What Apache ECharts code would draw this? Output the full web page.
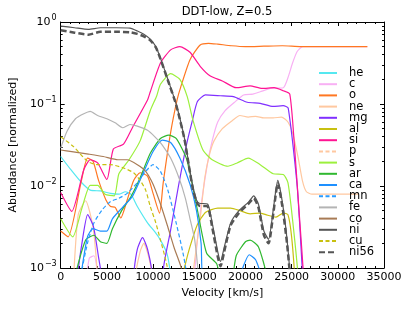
<!DOCTYPE html>
<html><head><meta charset="utf-8">
<script src="https://cdn.jsdelivr.net/npm/echarts@6/dist/echarts.min.js"></script>
<style>html,body{margin:0;padding:0;background:#fff}#c{width:415px;height:312px}</style>
</head><body><div id="c"></div><script>
// ---- data: [velocity km/s, abundance] ----
const names = ['he','c','o','ne','mg','al','si','p','s','ar','ca','mn','fe','co','ni','cu','ni56'];
const he = [[0,2.29e-2],[1100,1.58e-2],[2200,1.12e-2],[3200,8.91e-3],[4300,8.71e-3],[5400,8.13e-3],[6300,7.94e-3],[7000,8.51e-3],[7600,7.94e-3],[8300,5.62e-3],[9400,3.55e-3],[10200,2.75e-3],[10800,2.19e-3],[11500,1.51e-3],[11900,7.9e-4],[12500,1e-4]];
const c = [[0,1e-4],[2000,1e-4],[2700,6.3e-4],[3100,1.32e-3],[3600,1.41e-3],[4100,6.3e-4],[4600,1e-4],[14000,1e-4],[14400,6.3e-4],[15100,4.68e-3],[15900,1.91e-2],[16400,3.55e-2],[17000,6.03e-2],[17800,8.32e-2],[18900,0.107],[19800,0.129],[20800,0.132],[21600,0.141],[22700,0.155],[24100,0.158],[24600,0.209],[25100,0.316],[25600,0.437],[26200,0.501],[33200,0.501]];
const o = [[0,2.82e-3],[800,2.40e-3],[2200,1.10e-2],[2900,2.19e-2],[3500,2.00e-2],[4100,1.17e-2],[4900,6.76e-3],[5400,5.62e-3],[5900,5.50e-3],[6500,4.07e-3],[7200,6.76e-3],[7900,1.17e-2],[8600,1.45e-2],[9400,1.32e-2],[10000,8.13e-3],[10700,4.68e-3],[11100,1.10e-2],[11900,4.47e-2],[12600,0.112],[13000,0.162],[14000,0.347],[15100,0.525],[16000,0.550],[17000,0.537],[18500,0.513],[20000,0.501],[22000,0.507],[24000,0.513],[26000,0.501],[28000,0.501],[33200,0.501]];
const ne = [[0,1e-4],[1000,1e-4],[1400,7.9e-4],[1900,4.47e-3],[2700,6.61e-3],[3500,3.16e-3],[4000,7.9e-4],[4500,1e-4],[7700,1e-4],[8100,7.9e-4],[8600,1.58e-3],[9000,2.0e-3],[9500,1.41e-3],[9900,7.9e-4],[10300,1e-4],[13900,1e-4],[14300,7.9e-4],[15100,3.98e-3],[15600,1.26e-2],[16100,2.40e-2],[16600,3.55e-2],[17500,5.01e-2],[18600,6.31e-2],[19400,7.24e-2],[20300,6.92e-2],[21100,7.08e-2],[22000,6.76e-2],[23000,6.76e-2],[23900,6.92e-2],[24600,6.03e-2],[25100,4.47e-2],[25700,2.24e-2],[26200,1.12e-2],[26600,8.51e-3],[27200,7.94e-3],[32300,7.94e-3]];
const mg = [[0,1e-4],[1500,1e-4],[1840,7.9e-4],[2300,2.0e-3],[2920,4.47e-3],[3560,3.16e-3],[4100,1.35e-3],[4430,7.9e-4],[4900,1e-4],[7400,1e-4],[7890,7.9e-4],[8300,1.7e-3],[8860,2.34e-3],[9400,1.7e-3],[9940,7.9e-4],[10400,1e-4],[10700,1e-4],[11130,1.0e-3],[11880,2.82e-3],[12750,1.0e-2],[13610,3.16e-2],[14260,6.31e-2],[14800,0.107],[15660,0.129],[17280,0.126],[18690,0.123],[20200,0.105],[21600,0.102],[23000,0.0933],[24090,0.0955],[24630,0.0891],[25600,1.0e-2],[26250,6.3e-4],[26700,1e-4]];
const al = [[0,1e-4],[12500,1e-4],[13000,6.3e-4],[13500,1.12e-3],[14000,1.82e-3],[14800,3.39e-3],[15700,4.79e-3],[17000,5.37e-3],[18400,5.37e-3],[19400,5.01e-3],[20500,4.57e-3],[21600,4.68e-3],[22200,4.47e-3],[23300,4.17e-3],[24100,4.68e-3],[24600,4.47e-3],[25000,2.40e-3],[25400,6.3e-4],[25800,1e-4]];
const si = [[0,8.32e-3],[1200,4.90e-3],[2500,1.58e-2],[3200,2.09e-2],[4000,1.91e-2],[5000,1.20e-2],[5700,2.82e-2],[6800,3.24e-2],[7800,5.25e-2],[9400,0.112],[9700,0.141],[10800,0.316],[11900,0.457],[12900,0.501],[14000,0.427],[15100,0.288],[16200,0.219],[17500,0.191],[19000,0.158],[20500,0.166],[21800,0.155],[23100,0.158],[24100,0.145],[24800,0.132],[25300,3.16e-2],[25800,5.01e-3],[26300,7.9e-4],[26700,1e-4]];
const p = [[0,1e-5],[33000,1e-5]];
const s = [[0,3.98e-3],[1300,2.40e-3],[2300,5.37e-3],[3200,1.02e-2],[4000,1.02e-2],[4800,7.94e-3],[5800,7.59e-3],[6300,1.41e-2],[7400,2.09e-2],[8600,3.55e-2],[9700,8.32e-2],[10400,0.126],[10800,0.174],[11900,0.234],[12900,0.200],[13700,0.123],[14300,6.46e-2],[15400,2.75e-2],[16400,2.09e-2],[18100,1.74e-2],[19100,1.91e-2],[20300,2.19e-2],[21600,1.82e-2],[23000,1.41e-2],[24100,1.38e-2],[24600,1.10e-2],[25100,3.89e-3],[25700,7.9e-4],[26100,1e-4]];
const ar = [[0,1e-4],[1200,1e-4],[1600,7.9e-4],[2700,2.19e-3],[3600,2.51e-3],[4300,2.09e-3],[5000,2.0e-3],[5600,3.02e-3],[6600,5.01e-3],[7600,7.41e-3],[8600,1.26e-2],[9700,2.51e-2],[10800,3.80e-2],[11700,4.17e-2],[12500,3.80e-2],[13600,2.19e-2],[14300,9.77e-3],[14900,4.47e-3],[15800,1.51e-3],[16900,1.12e-3],[17500,6.3e-4],[18400,6.3e-4],[19000,1.41e-3],[20000,2.09e-3],[20500,2.19e-3],[21400,1.82e-3],[22300,7.9e-4],[22800,1e-4]];
const ca = [[0,1e-4],[1800,1e-4],[2200,7.9e-4],[2900,2.40e-3],[3500,3.02e-3],[4300,2.82e-3],[5000,2.82e-3],[5600,3.98e-3],[6700,5.50e-3],[7800,7.59e-3],[8900,1.41e-2],[10000,2.63e-2],[11000,3.63e-2],[11900,3.39e-2],[12900,2.19e-2],[14000,1.05e-2],[14700,5.01e-3],[15200,2.0e-3],[15500,6.3e-4],[19000,6.3e-4],[19700,1.0e-3],[20400,1.45e-3],[21100,1.26e-3],[21700,7.9e-4],[22200,1e-4]];
const mn = [[0,1e-4],[1800,1e-4],[2200,7.9e-4],[2900,2.0e-3],[3600,3.55e-3],[4500,5.13e-3],[5400,6.46e-3],[6300,7.08e-3],[7200,8.13e-3],[8300,1.10e-2],[9200,1.51e-2],[10000,1.82e-2],[10800,1.51e-2],[11600,8.91e-3],[12500,3.55e-3],[13300,1.41e-3],[13800,6.3e-4],[14300,1e-4]];
const fe = [[0,2.9e-2],[700,4.68e-2],[1600,6.61e-2],[2500,7.59e-2],[3200,8.13e-2],[4000,7.24e-2],[5000,6.61e-2],[5900,5.89e-2],[6700,5.13e-2],[7500,5.62e-2],[8300,5.37e-2],[9400,4.79e-2],[10200,3.98e-2],[11000,3.16e-2],[11900,2.19e-2],[12800,1.26e-2],[13500,7.08e-3],[14000,3.98e-3],[14500,2.24e-3],[14900,7.9e-4],[15200,1e-4]];
const co = [[0,2.75e-2],[1200,2.63e-2],[3000,2.45e-2],[4600,2.29e-2],[6200,2.09e-2],[7200,2.09e-2],[8300,1.82e-2],[9200,1.51e-2],[10000,1.05e-2],[10800,6.03e-3],[11600,3.16e-3],[12300,1.74e-3],[13000,1.05e-3],[13400,6.3e-4],[13800,1e-4]];
const ni = [[0,0.891],[1500,0.851],[3000,0.813],[4300,0.851],[6000,0.851],[7500,0.841],[8300,0.776],[9000,0.708],[9700,0.617],[10300,0.501],[10800,0.363],[11600,0.200],[12500,0.100],[13400,3.80e-2],[13900,1.78e-2],[14300,1.0e-2],[14700,6.76e-3],[15000,6.17e-3],[15900,6.03e-3],[16400,3.55e-3],[17000,1.58e-3],[17300,1.20e-3],[17700,1.78e-3],[18400,3.55e-3],[19300,5.01e-3],[20300,6.31e-3],[20900,7.59e-3],[21400,6.03e-3],[22000,2.82e-3],[22500,2.24e-3],[23000,5.01e-3],[23500,1.17e-2],[24000,6.31e-3],[24500,2.24e-3],[24900,6.3e-4],[25200,1e-4]];
const cu = [[0,3.98e-2],[1400,3.02e-2],[2900,2.0e-2],[4000,1.82e-2],[5400,1.82e-2],[6800,1.66e-2],[7900,1.45e-2],[8600,1.17e-2],[9200,8.91e-3],[9700,5.62e-3],[10300,3.55e-3],[10800,2.19e-3],[11300,1.35e-3],[11900,6.3e-4],[12300,1e-4]];
const ni56 = [[0,0.794],[1500,0.741],[3000,0.70],[4300,0.759],[6000,0.759],[7500,0.75],[8300,0.716],[9000,0.668],[9700,0.596],[10300,0.490],[10800,0.355],[11600,0.195],[12500,9.77e-2],[13400,3.72e-2],[13900,1.70e-2],[14300,9.33e-3],[14700,6.46e-3],[15000,5.75e-3],[15900,5.62e-3],[16400,3.16e-3],[17000,1.38e-3],[17300,1.05e-3],[17700,1.58e-3],[18400,3.31e-3],[19300,4.68e-3],[20300,6.03e-3],[20900,7.08e-3],[21400,5.50e-3],[22000,2.51e-3],[22500,2.0e-3],[23000,4.47e-3],[23500,1.07e-2],[24000,5.62e-3],[24500,2.0e-3],[24900,6.3e-4],[25200,1e-4]];
const yMinorTicks = [0.002,0.003,0.004,0.005,0.006,0.007,0.008,0.009,0.02,0.03,0.04,0.05,0.06,0.07,0.08,0.09,0.2,0.3,0.4,0.5,0.6,0.7,0.8,0.9];
const xRange = [0, 35000];
const yRange = [0.001, 1];
const xInterval = 5000;

// ---- styles ----
const dataByName = {he,c,o,ne,mg,al,si,p,s,ar,ca,mn,fe,co,ni,cu,ni56};
const colors = {he:'#55e8f0',c:'#f8b0f4',o:'#ff7722',ne:'#ffc8a0',mg:'#8030ff',al:'#c8c010',si:'#ff1493',p:'#ffc8a0',s:'#9cf03c',ar:'#30b830',ca:'#1e90ff',mn:'#2a9cff',fe:'#b4b4b4',co:'#a87b55',ni:'#555555',cu:'#c8c010',ni56:'#555555'};
const dashes = {p:[4,2.5],mn:[4,2.5],cu:[4,2.5],ni56:[6,3]};
const FONT = 'DejaVu Sans';

const series = names.map(n => ({
  name: n, type: 'line', data: dataByName[n], symbol: 'none', showSymbol: false,
  smooth: 0.2, clip: true, animation: false,
  lineStyle: {color: colors[n], width: n === 'ni56' ? 2.5 : 1.2, type: dashes[n] || 'solid'},
  itemStyle: {color: colors[n]}
}));

const tickStyle = {color: '#000', width: 1};
const chart = echarts.init(document.getElementById('c'), null, {renderer: 'canvas'});
chart.setOption({
  animation: false,
  backgroundColor: '#fff',
  title: {text: 'DDT-low, Z=0.5', left: 222, top: 1, textAlign: 'center',
    textStyle: {fontFamily: FONT, fontSize: 11.5, fontWeight: 'normal', color: '#000'}},
  grid: {left: 60, right: 31, top: 22, bottom: 44},
  legend: {data: names, orient: 'vertical', left: 318, top: 67, padding: 0, itemWidth: 18, itemHeight: 1, itemGap: -0.8,
    itemStyle: {opacity: 0},
    textStyle: {fontFamily: FONT, fontSize: 11.5, color: '#000', lineHeight: 11.1, padding: [0,0,0,7]}},
  xAxis: [
    {type: 'value', min: xRange[0], max: xRange[1], interval: xInterval, position: 'bottom',
     name: 'Velocity [km/s]', nameLocation: 'middle', nameGap: 20,
     nameTextStyle: {fontFamily: FONT, fontSize: 11, color: '#000'},
     axisLine: {show: true, lineStyle: tickStyle}, splitLine: {show: false},
     axisTick: {show: true, inside: true, length: 4, lineStyle: tickStyle},
     minorTick: {show: true, splitNumber: 5, length: 2, lineStyle: tickStyle},
     axisLabel: {fontFamily: FONT, fontSize: 11, color: '#000', margin: 4, formatter: v => String(v)}},
    {type: 'value', min: xRange[0], max: xRange[1], interval: xInterval, position: 'top',
     axisLine: {show: true, lineStyle: tickStyle}, splitLine: {show: false},
     axisTick: {show: true, inside: true, length: 4, lineStyle: tickStyle},
     minorTick: {show: true, splitNumber: 5, length: 2, lineStyle: tickStyle},
     axisLabel: {show: false}}
  ],
  yAxis: [
    {type: 'log', logBase: 10, min: yRange[0], max: yRange[1], position: 'left',
     name: 'Abundance [normalized]', nameLocation: 'middle', nameGap: 36,
     nameTextStyle: {fontFamily: FONT, fontSize: 11, color: '#000'},
     axisLine: {show: true, lineStyle: tickStyle}, splitLine: {show: false},
     axisTick: {show: true, inside: true, length: 4, lineStyle: tickStyle},
     axisLabel: {margin: 4, color: '#000',
       formatter: v => { const e = Math.round(Math.log10(v)); return '{b|10}{s|' + (e === 0 ? '0' : '\u2212' + (-e)) + '}'; },
       rich: {b: {fontFamily: FONT, fontSize: 11, color: '#000'},
              s: {fontFamily: FONT, fontSize: 8, color: '#000', padding: [0, 0, 9, 1]}}}},
    {type: 'log', logBase: 10, min: yRange[0], max: yRange[1], position: 'left',
     axisLine: {show: false}, splitLine: {show: false}, axisLabel: {show: false},
     axisTick: {show: true, inside: true, length: 2, lineStyle: tickStyle, customValues: yMinorTicks}},
    {type: 'log', logBase: 10, min: yRange[0], max: yRange[1], position: 'right',
     axisLine: {show: true, lineStyle: tickStyle}, splitLine: {show: false}, axisLabel: {show: false},
     axisTick: {show: true, inside: true, length: 4, lineStyle: tickStyle}},
    {type: 'log', logBase: 10, min: yRange[0], max: yRange[1], position: 'right',
     axisLine: {show: false}, splitLine: {show: false}, axisLabel: {show: false},
     axisTick: {show: true, inside: true, length: 2, lineStyle: tickStyle, customValues: yMinorTicks}}
  ],
  series: series
});
</script></body></html>
